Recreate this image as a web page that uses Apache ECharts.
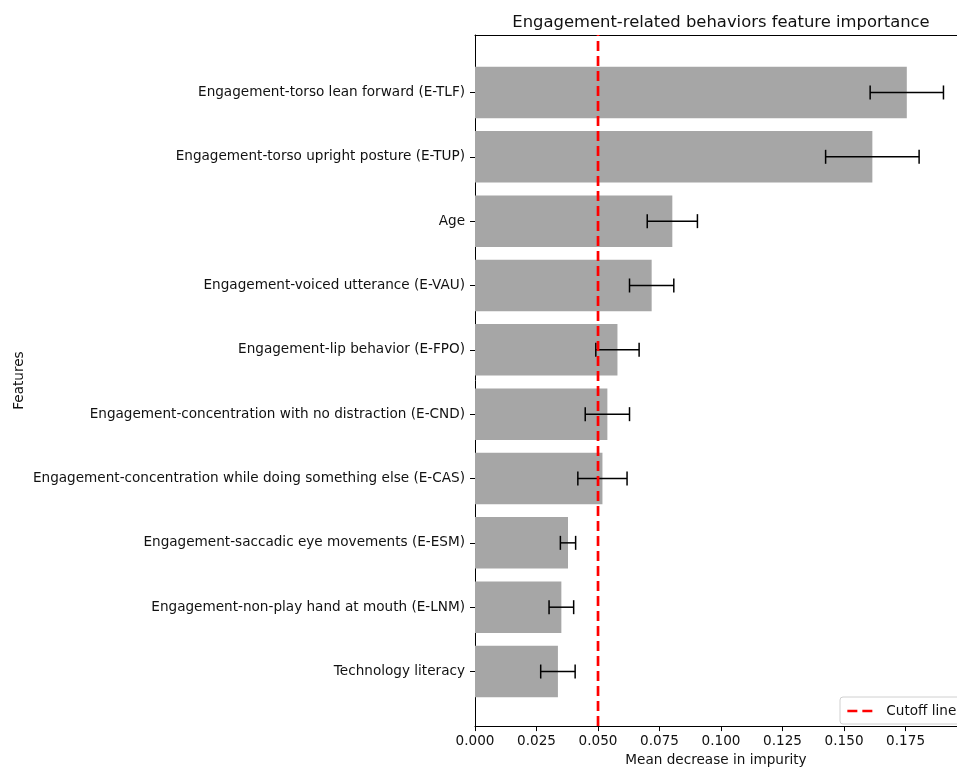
<!DOCTYPE html>
<html>
<head>
<meta charset="utf-8">
<script src="https://cdn.jsdelivr.net/npm/echarts@6/dist/echarts.min.js"></script>
<style>
  html, body { margin: 0; padding: 0; background: #fff; }
  #chart { width: 957px; height: 772px; }
</style>
</head>
<body>
<div id="chart"></div>
<script>
// Features, listed top to bottom
const features = [
  'Engagement-torso lean forward (E-TLF)',
  'Engagement-torso upright posture (E-TUP)',
  'Age',
  'Engagement-voiced utterance (E-VAU)',
  'Engagement-lip behavior (E-FPO)',
  'Engagement-concentration with no distraction (E-CND)',
  'Engagement-concentration while doing something else (E-CAS)',
  'Engagement-saccadic eye movements (E-ESM)',
  'Engagement-non-play hand at mouth (E-LNM)',
  'Technology literacy'
];
// Mean decrease in impurity per feature
const importance = [0.1755, 0.1615, 0.0802, 0.0718, 0.0579, 0.0538, 0.0518, 0.0378, 0.0351, 0.0337];
// Standard deviation across trees
const stdDev = [0.0149, 0.0190, 0.0102, 0.0090, 0.0088, 0.0090, 0.0100, 0.0031, 0.0050, 0.0070];
const cutoff = 0.05;
// x ticks shown; the visible axis stops short of 0.200
const xTickValues = [0, 0.025, 0.05, 0.075, 0.1, 0.125, 0.15, 0.175];
const xMax = 0.1959;

const FONT = 'DejaVu Sans';
const FS = 13.6;
const TXT = '#111';
const chart = echarts.init(document.getElementById('chart'), null, { renderer: 'canvas' });

const errData = importance.map((v, i) => [v, i, stdDev[i]]);

const PLOT_LEFT = 475;

chart.setOption({
  animation: false,
  backgroundColor: '#fff',
  title: {
    text: 'Engagement-related behaviors feature importance',
    left: 716,
    top: 10,
    textAlign: 'center',
    textStyle: { fontFamily: FONT, fontSize: 16.4, fontWeight: 'normal', color: TXT }
  },
  legend: {
    left: 840,
    top: 697,
    orient: 'vertical',
    data: ['Cutoff line'],
    itemWidth: 26,
    itemHeight: 12,
    padding: [7, 8, 6, 6],
    backgroundColor: 'rgba(255,255,255,0.8)',
    borderColor: '#d0d0d0',
    borderWidth: 1,
    borderRadius: 3,
    itemStyle: { opacity: 0 },
    lineStyle: { type: [10, 5], width: 2.7 },
    textStyle: { fontFamily: FONT, fontSize: FS, color: TXT, padding: [0, 0, 0, 8] }
  },
  grid: [
    // frame grid: spines, x ticks, cutoff line
    { left: PLOT_LEFT, right: 0, top: 35, bottom: 43 },
    // bar grid: category bands
    { left: PLOT_LEFT, right: 0, top: 60.3, bottom: 68.3 }
  ],
  xAxis: [
    {
      gridIndex: 0, type: 'value', min: 0, max: xMax,
      splitLine: { show: false },
      axisLine: { show: true, lineStyle: { color: '#000', width: 1 } },
      axisTick: { show: true, length: 5, lineStyle: { color: '#000' }, customValues: xTickValues },
      axisLabel: {
        fontFamily: FONT, fontSize: FS, color: TXT, margin: 8,
        customValues: xTickValues,
        formatter: v => v.toFixed(3)
      },
      name: 'Mean decrease in impurity',
      nameLocation: 'middle',
      nameGap: 26,
      nameTextStyle: { fontFamily: FONT, fontSize: FS, color: TXT }
    },
    {
      gridIndex: 1, type: 'value', min: 0, max: xMax,
      show: false, splitLine: { show: false }
    },
    {
      // top spine
      gridIndex: 0, type: 'value', min: 0, max: xMax, position: 'top',
      axisLine: { show: true, lineStyle: { color: '#000', width: 1 } },
      axisTick: { show: false }, axisLabel: { show: false }, splitLine: { show: false }
    }
  ],
  yAxis: [
    {
      gridIndex: 0, type: 'value', min: 0, max: 1,
      axisLine: { show: true, lineStyle: { color: '#000', width: 1 } },
      axisTick: { show: false }, axisLabel: { show: false }, splitLine: { show: false },
      name: 'Features',
      nameLocation: 'middle',
      nameGap: 449,
      nameRotate: 90,
      nameTextStyle: { fontFamily: FONT, fontSize: FS, color: TXT }
    },
    {
      gridIndex: 1, type: 'category', data: features, inverse: true,
      axisLine: { show: false },
      axisTick: { show: true, alignWithLabel: true, length: 5, lineStyle: { color: '#000' } },
      axisLabel: { fontFamily: FONT, fontSize: FS, color: TXT, margin: 10 },
      splitLine: { show: false }
    }
  ],
  series: [
    {
      name: 'importance',
      type: 'bar',
      xAxisIndex: 1, yAxisIndex: 1,
      data: importance,
      barCategoryGap: '20%',
      itemStyle: { color: '#a6a6a6' },
      z: 2
    },
    {
      name: 'std',
      type: 'custom',
      xAxisIndex: 1, yAxisIndex: 1,
      data: errData,
      encode: { x: 0, y: 1 },
      z: 3,
      renderItem: function (params, api) {
        const m = api.value(0), idx = api.value(1), e = api.value(2);
        const a = api.coord([m - e, idx]);
        const b = api.coord([m + e, idx]);
        const cap = 7;
        const style = { stroke: '#000', lineWidth: 1.5, fill: null };
        return {
          type: 'group',
          children: [
            { type: 'line', shape: { x1: a[0], y1: a[1], x2: b[0], y2: b[1] }, style: style },
            { type: 'line', shape: { x1: a[0], y1: a[1] - cap, x2: a[0], y2: a[1] + cap }, style: style },
            { type: 'line', shape: { x1: b[0], y1: b[1] - cap, x2: b[0], y2: b[1] + cap }, style: style }
          ]
        };
      }
    },
    {
      name: 'Cutoff line',
      type: 'line',
      xAxisIndex: 0, yAxisIndex: 0,
      data: [[cutoff, 0], [cutoff, 1]],
      symbol: 'none',
      lineStyle: { color: '#ff0000', width: 2.7, type: [10, 5] },
      itemStyle: { color: '#ff0000' },
      z: 5
    }
  ]
});
</script>
</body>
</html>
